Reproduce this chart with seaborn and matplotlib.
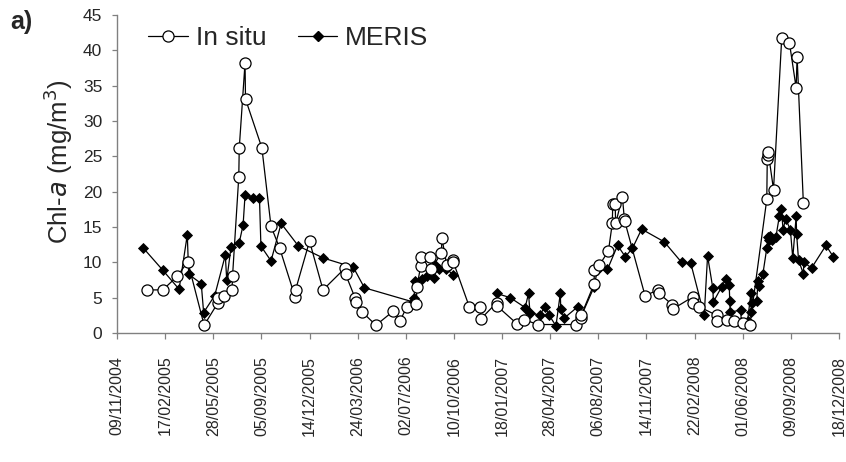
import pandas as pd
import seaborn as sns
import matplotlib.pyplot as plt
from matplotlib.lines import Line2D

# Days are counted from the first axis tick (09/11/2004)
start_date = '2004-11-09'

insitu_day = [62, 95, 125, 147, 181, 209, 210, 223, 239, 240, 253, 254, 266, 267,
              301, 320, 338, 370, 371, 400, 428, 474, 475, 495, 496, 509, 538,
              574, 588, 602, 622, 623, 631, 632, 651, 652, 674, 675, 685, 698,
              699, 732, 755, 756, 789, 790, 831, 846, 874, 954, 964, 965, 991,
              992, 1002, 1021, 1029, 1030, 1035, 1036, 1050, 1054, 1055, 1097,
              1125, 1126, 1154, 1155, 1196, 1197, 1210, 1246, 1247, 1267, 1281,
              1300, 1315, 1350, 1351, 1352, 1353, 1364, 1381, 1397, 1411, 1413,
              1426]
insitu_chl = [6.1, 6.1, 8.0, 10.1, 1.1, 4.2, 5.0, 5.2, 6.1, 8.0, 22.1, 26.2, 38.2, 33.1,
              26.2, 15.1, 12.0, 5.1, 6.1, 13.0, 6.1, 9.2, 8.3, 4.9, 4.4, 3.0, 1.1,
              3.1, 1.7, 3.7, 4.1, 6.5, 9.5, 10.8, 10.8, 9.0, 11.3, 13.5, 9.6, 10.4,
              10.0, 3.7, 3.7, 2.0, 4.3, 3.8, 1.3, 1.9, 1.2, 1.2, 2.1, 2.6, 6.9,
              8.9, 9.6, 11.6, 15.5, 18.2, 18.2, 15.5, 19.3, 16.2, 15.8, 5.3,
              6.1, 5.6, 4.0, 3.4, 5.1, 4.2, 3.7, 2.5, 1.7, 1.8, 1.7,
              1.4, 1.2, 18.9, 24.6, 25.2, 25.6, 20.3, 41.7, 41.1, 34.7, 39.1,
              18.4]

meris_day = [55, 95, 129, 146, 149, 175, 180, 203, 225, 228, 237, 254, 262, 266,
             282, 296, 299, 320, 341, 377, 429, 491, 514, 615, 617, 620, 633, 644,
             659, 661, 670, 684, 699,
             789, 817, 848, 855, 858, 878, 889, 898, 912, 921, 922, 929, 957, 964,
             991, 998, 1019, 1040, 1056, 1071, 1090, 1137, 1173, 1192, 1220, 1227,
             1238, 1239, 1256, 1265, 1272, 1273, 1274, 1296, 1297, 1310, 1317,
             1318, 1320, 1329, 1332, 1334, 1342, 1350, 1353, 1355, 1357, 1360,
             1369, 1376, 1380, 1384, 1389, 1399, 1404, 1411, 1412, 1416, 1426,
             1427, 1443, 1473, 1488]
meris_chl = [12.0, 8.9, 6.2, 13.9, 8.3, 7.0, 2.9, 5.3, 11.0, 7.5, 12.2, 12.8, 15.3, 19.5,
             19.1, 19.1, 12.3, 10.2, 15.5, 12.3, 10.6, 9.3, 6.4, 4.4, 5.0, 7.3, 7.7, 8.0,
             7.8, 9.6, 9.1, 9.1, 8.2,
             5.6, 5.0, 3.6, 5.6, 2.9, 2.5, 3.7, 2.5, 1.0, 5.6, 3.4, 2.1, 3.7, 2.3,
             6.5, 8.9, 9.0, 12.4, 10.8, 12.0, 14.7, 12.9, 10.0, 9.9, 2.5, 10.9,
             6.3, 4.4, 6.5, 7.7, 6.8, 4.6, 3.0, 3.2, 1.5, 1.7, 5.6,
             3.0, 4.3, 4.6, 7.3, 6.7, 8.4, 12.0, 13.6, 13.2, 13.7, 13.1,
             13.6, 16.5, 17.6, 14.6, 16.2, 14.6, 10.6, 16.5, 14.0, 10.3, 8.4,
             10.0, 9.2, 12.4, 10.8]
meris_gap_after = 699  # MERIS line is broken after this day

tick_labels = ['09/11/2004', '17/02/2005', '28/05/2005', '05/09/2005', '14/12/2005',
               '24/03/2006', '02/07/2006', '10/10/2006', '18/01/2007', '28/04/2007',
               '06/08/2007', '14/11/2007', '22/02/2008', '01/06/2008', '09/09/2008',
               '18/12/2008']

start = pd.Timestamp(start_date)
df_insitu = pd.DataFrame({'date': start + pd.to_timedelta(insitu_day, unit='D'),
                          'chl': insitu_chl})
df_meris = pd.DataFrame({'date': start + pd.to_timedelta(meris_day, unit='D'),
                         'chl': meris_chl,
                         'seg': [int(d > meris_gap_after) for d in meris_day]})

sns.set_theme(style='white')
plt.rcParams['font.family'] = ['Liberation Sans', 'DejaVu Sans']

fig, ax = plt.subplots(figsize=(8.46, 4.62), dpi=100)
fig.subplots_adjust(left=0.1383, right=0.9917, bottom=0.2792, top=0.9675)

sns.lineplot(data=df_meris, x='date', y='chl', units='seg', estimator=None, sort=False,
             color='black', lw=0.9, marker='D', markersize=5.5,
             markerfacecolor='black', markeredgecolor='black', markeredgewidth=0.6, ax=ax)
sns.lineplot(data=df_insitu, x='date', y='chl', estimator=None, sort=False,
             color='black', lw=0.9, marker='o', markersize=8,
             markerfacecolor='white', markeredgecolor='black', markeredgewidth=0.9, ax=ax)

ticks = [start + pd.Timedelta(days=100 * i) for i in range(len(tick_labels))]
ax.set_xlim(ticks[0], ticks[-1])
ax.set_xticks(ticks)
ax.set_xticklabels(tick_labels, rotation=90, fontsize=11.5)
ax.set_ylim(0, 45)
ax.set_yticks(range(0, 46, 5))
ax.tick_params(axis='y', labelsize=12.5, length=3.6, width=0.9, color='#808080', direction='out', left=True, pad=7)
ax.tick_params(axis='x', length=4.3, width=0.9, color='#808080', direction='out', bottom=True, pad=12)
ax.set_xlabel('')
ax.set_ylabel('')
for side in ['top', 'right']:
    ax.spines[side].set_visible(False)
for side in ['left', 'bottom']:
    ax.spines[side].set_color('#808080')
    ax.spines[side].set_linewidth(1.0)

fig.text(58 / 846, 1 - 162 / 462, 'Chl-$\\mathit{a}$ (mg/m$^3$)', rotation=90,
         ha='center', va='center', fontsize=18.5)
fig.text(10 / 846, 1 - 22 / 462, 'a)', fontsize=18, fontweight='bold', va='center')

handles = [Line2D([], [], color='black', lw=0.9, marker='o', markersize=8,
                  markerfacecolor='white', markeredgecolor='black', markeredgewidth=0.9),
           Line2D([], [], color='black', lw=0.9, marker='D', markersize=5.5,
                  markerfacecolor='black', markeredgecolor='black')]
ax.legend(handles, ['In situ', 'MERIS'], ncol=2, frameon=False, fontsize=19,
          loc='center left', bbox_to_anchor=(148 / 846, 1 - 38 / 462),
          bbox_transform=fig.transFigure, borderaxespad=0, borderpad=0,
          handlelength=1.5, handletextpad=0.3, columnspacing=1.2)

plt.savefig('out.png', dpi=100)
